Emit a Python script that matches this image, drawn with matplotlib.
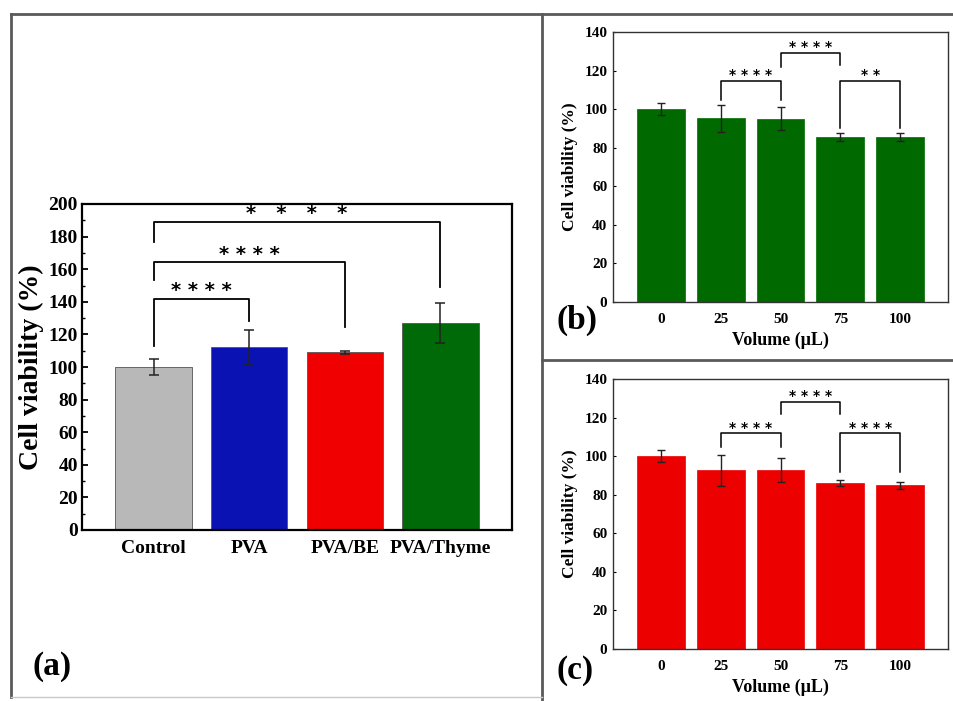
import numpy as np
import matplotlib.pyplot as plt
from matplotlib.lines import Line2D
from matplotlib.ticker import MultipleLocator

plt.rcParams['font.family'] = ['Liberation Serif', 'DejaVu Serif']
plt.rcParams['font.weight'] = 'bold'

# (a) membranes
groups = ['Control', 'PVA', 'PVA/BE', 'PVA/Thyme']
viab_a = [100, 112, 109, 127]
err_a = [4.7, 11, 1, 12.5]
colors_a = ['#b8b8b8', '#0a12b4', '#f00000', '#006a08']

# (b) and (c) extract volumes
volumes = ['0', '25', '50', '75', '100']
viab_b = [100, 95.3, 95, 85.7, 85.7]
err_b = [3, 7, 6, 2, 2]
viab_c = [100, 92.6, 92.8, 86.2, 85]
err_c = [3, 8, 6, 1.5, 1.8]

# significance brackets: (i, j, bar height, left leg end, right leg end, stars)
sig_a = [(0, 1, 141.7, 113, 128, '* * * *'),
         (0, 2, 164.2, 153.4, 124.7, '* * * *'),
         (0, 3, 189, 176.5, 149, '*   *   *   *')]
sig_b = [(1, 2, 114.5, 104.7, 105, '* * * *'),
         (2, 3, 129.3, 121.9, 122.8, '* * * *'),
         (3, 4, 114.5, 90, 90, '* *')]
sig_c = [(1, 2, 111.8, 105, 105, '* * * *'),
         (2, 3, 128.2, 121.7, 121.7, '* * * *'),
         (3, 4, 111.8, 92, 92, '* * * *')]


def brackets(ax, sigs, lw, fs, dy):
    for i, j, h, l1, l2, s in sigs:
        ax.plot([i, i, j, j], [l1, h, h, l2], color='black', lw=lw)
        ax.text((i + j) / 2, h + dy, s, ha='center', va='center',
                fontsize=fs, fontweight='bold', family='DejaVu Sans')


fig = plt.figure(figsize=(9.54, 7.01), dpi=100)
W, H = 954, 701


def box(x0, y0, x1, y1):
    return [x0 / W, 1 - y1 / H, (x1 - x0) / W, (y1 - y0) / H]


# ---- panel (a)
ax = fig.add_axes(box(82, 204, 512, 530))
x = np.arange(len(groups))
ax.bar(x, viab_a, width=0.8, color=colors_a, edgecolor='#555555', linewidth=0.6)
ax.errorbar(x, viab_a, yerr=err_a, fmt='none', ecolor='#222222', elinewidth=1.1,
            capsize=3.5, capthick=1.1)
brackets(ax, sig_a, 1.3, 14, 5)
ax.set_xlim(-0.75, 3.75)
ax.set_ylim(0, 200)
ax.set_xticks(x)
ax.set_xticklabels(groups, fontsize=14, fontweight='bold')
ax.yaxis.set_major_locator(MultipleLocator(20))
ax.yaxis.set_minor_locator(MultipleLocator(10))
ax.tick_params(axis='y', which='major', direction='in', length=4, width=1.3,
               labelsize=14, pad=3)
ax.tick_params(axis='y', which='minor', direction='in', length=2.5, width=1)
ax.tick_params(axis='x', length=0, pad=7)
for lab in ax.get_yticklabels():
    lab.set_fontweight('bold')
ax.set_ylabel('Cell viability (%)', fontsize=20, fontweight='bold', labelpad=3)
for sp in ax.spines.values():
    sp.set_linewidth(1.6)

# ---- panels (b) and (c)
for rect, vals, errs, col, sigs in [
        (box(613, 32, 948, 302), viab_b, err_b, '#006a00', sig_b),
        (box(613, 379, 948, 649), viab_c, err_c, '#ec0000', sig_c)]:
    ax = fig.add_axes(rect)
    xv = np.arange(len(volumes))
    ax.bar(xv, vals, width=0.8, color=col, edgecolor=col, linewidth=0.5)
    ax.errorbar(xv, vals, yerr=errs, fmt='none', ecolor='#222222', elinewidth=1,
                capsize=3, capthick=1)
    brackets(ax, sigs, 1.1, 10, 3)
    ax.set_xlim(-0.8, 4.8)
    ax.set_ylim(0, 140)
    ax.set_xticks(xv)
    ax.set_xticklabels(volumes, fontsize=11, fontweight='bold')
    ax.yaxis.set_major_locator(MultipleLocator(20))
    ax.tick_params(axis='y', direction='in', length=2, labelsize=11, pad=4)
    ax.tick_params(axis='x', length=0, pad=8)
    for lab in ax.get_yticklabels():
        lab.set_fontweight('bold')
    ax.set_ylabel('Cell viability (%)', fontsize=12.5, fontweight='bold', labelpad=5)
    ax.set_xlabel('Volume (μL)', fontsize=13, fontweight='bold', labelpad=4)
    for sp in ax.spines.values():
        sp.set_linewidth(1.0)
        sp.set_color('#333333')

# panel letters
fig.text(32 / W, 1 - 667 / H, '(a)', fontsize=24, fontweight='bold', va='center')
fig.text(557 / W, 1 - 320 / H, '(b)', fontsize=24, fontweight='bold', va='center')
fig.text(557 / W, 1 - 670 / H, '(c)', fontsize=24, fontweight='bold', va='center')


# frames around the panels
def fline(xs, ys, lw=2.0, c='#5a5a5a'):
    fig.add_artist(Line2D([v / W for v in xs], [1 - v / H for v in ys],
                          color=c, lw=lw))


fline([11, 11], [14, 697])
fline([11, 954], [14, 14])
fline([542, 542], [14, 700])
fline([542, 954], [360, 360])
fline([11, 542], [697, 697], lw=1.0, c='#c8c8c8')

fig.savefig('out.png', dpi=100, facecolor='white')
